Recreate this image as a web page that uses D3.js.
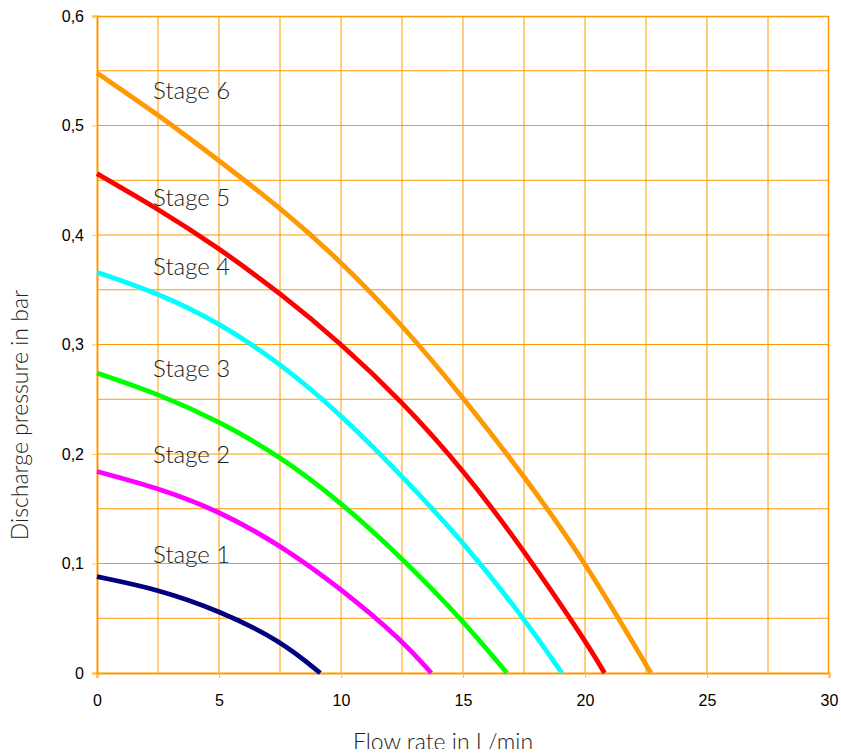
<!DOCTYPE html>
<html>
<head>
<meta charset="utf-8">
<script src="https://cdn.jsdelivr.net/npm/d3@7"></script>
<style>
  html, body { margin: 0; padding: 0; background: #fff; }
  svg { display: block; }
</style>
</head>
<body>
<svg id="chart"></svg>
<script>
// stage curves (flow in L/min, pressure in bar)
var stageNames = ["Stage 1", "Stage 2", "Stage 3", "Stage 4", "Stage 5", "Stage 6"];
var stageColors = ["#000080", "#ff00ff", "#00ff00", "#00ffff", "#ff0000", "#ff9900"];
var stage1 = [[0, 0.088], [2.5, 0.0765], [5, 0.057], [7.5, 0.030], [9.15, 0]];
var stage2 = [[0, 0.184], [2.5, 0.169], [5, 0.148], [7.5, 0.117], [10, 0.077], [12.5, 0.030], [13.7, 0]];
var stage3 = [[0, 0.274], [2.5, 0.255], [5, 0.230], [7.5, 0.198], [10, 0.156], [12.5, 0.105], [15, 0.048], [16.8, 0]];
var stage4 = [[0, 0.366], [2.5, 0.347], [5, 0.320], [7.5, 0.283], [10, 0.236], [12.5, 0.180], [15, 0.120], [17.5, 0.050], [19.05, 0]];
var stage5 = [[0, 0.456], [2.5, 0.424], [5, 0.388], [7.5, 0.347], [10, 0.301], [12.5, 0.248], [15, 0.186], [17.5, 0.112], [20, 0.030], [20.8, 0]];
var stage6 = [[0, 0.548], [2.5, 0.510], [5, 0.468], [7.5, 0.425], [10, 0.376], [12.5, 0.318], [15, 0.252], [17.5, 0.180], [20, 0.102], [22.7, 0]];
var stages = [stage1, stage2, stage3, stage4, stage5, stage6];

// where the "Stage n" labels sit (data units)
var labelFlow = 2.3;
var labelPressure = [0.1007, 0.1915, 0.2706, 0.3635, 0.4267, 0.524];

var xTicks = [0, 5, 10, 15, 20, 25, 30];
var yTicks = [0, 0.1, 0.2, 0.3, 0.4, 0.5, 0.6];
var xGrid = [2.5, 5, 7.5, 10, 12.5, 15, 17.5, 20, 22.5, 25, 27.5];
var yGrid = [0.05, 0.1, 0.15, 0.2, 0.25, 0.3, 0.35, 0.4, 0.45, 0.5, 0.55];

var width = 841, height = 755;
var margin = { top: 16, right: 12, bottom: 82, left: 97 };
var orange = "#ff9900";

var svg = d3.select("svg#chart").attr("width", width).attr("height", height);

var x = d3.scaleLinear().domain([0, 30]).range([margin.left, width - margin.right]);
var y = d3.scaleLinear().domain([0, 0.6]).range([height - margin.bottom, margin.top]);

// grid
svg.append("g")
   .selectAll("line")
   .data(xGrid)
   .join("line")
   .attr("x1", function (d) { return x(d); })
   .attr("x2", function (d) { return x(d); })
   .attr("y1", y(0))
   .attr("y2", y(0.6))
   .attr("stroke", orange)
   .attr("stroke-width", 1);

svg.append("g")
   .selectAll("line")
   .data(yGrid)
   .join("line")
   .attr("x1", x(0))
   .attr("x2", x(30))
   .attr("y1", function (d) { return y(d); })
   .attr("y2", function (d) { return y(d); })
   .attr("stroke", orange)
   .attr("stroke-width", 1);

// frame top / right
svg.append("line")
   .attr("x1", x(0)).attr("x2", x(30))
   .attr("y1", y(0.6) + 0.5).attr("y2", y(0.6) + 0.5)
   .attr("stroke", orange).attr("stroke-width", 1.5);
svg.append("line")
   .attr("x1", x(30) - 0.5).attr("x2", x(30) - 0.5)
   .attr("y1", y(0)).attr("y2", y(0.6))
   .attr("stroke", orange).attr("stroke-width", 1.5);

// axes
var xAxis = svg.append("g")
   .attr("transform", "translate(0," + y(0) + ")")
   .call(d3.axisBottom(x).tickValues(xTicks).tickSize(5).tickPadding(17).tickFormat(d3.format("d")));

var yAxis = svg.append("g")
   .attr("transform", "translate(" + x(0) + ",0)")
   .call(d3.axisLeft(y).tickValues(yTicks).tickSize(5).tickPadding(8)
      .tickFormat(function (d) { return d === 0 ? "0" : d3.format(".1f")(d).replace(".", ","); }));

[xAxis, yAxis].forEach(function (a) {
   a.select(".domain").attr("stroke", orange).attr("stroke-width", 2);
   a.selectAll(".tick line").attr("stroke", "#ffc060").attr("stroke-width", 1);
   a.selectAll(".tick text")
      .attr("fill", "#000")
      .style("font-family", "'Liberation Sans', Arial, sans-serif")
      .style("font-size", "16px");
});

// curves (B-spline keeps them smooth like the original)
var line = d3.line()
   .x(function (d) { return x(d[0]); })
   .y(function (d) { return y(d[1]); })
   .curve(d3.curveBasis);

svg.append("g")
   .selectAll("path")
   .data(stages)
   .join("path")
   .attr("fill", "none")
   .attr("stroke", function (d, i) { return stageColors[i]; })
   .attr("stroke-width", 4.8)
   .attr("d", line);

// stage labels
svg.append("g")
   .selectAll("text")
   .data(stageNames)
   .join("text")
   .attr("x", x(labelFlow))
   .attr("y", function (d, i) { return y(labelPressure[i]); })
   .attr("fill", "#222")
   .style("font-family", "Lato, 'Open Sans', sans-serif")
   .style("font-weight", 300)
   .style("font-size", "24px")
   .text(function (d) { return d; });

// axis titles
svg.append("text")
   .attr("transform", "translate(28," + 415 + ") rotate(-90)")
   .attr("text-anchor", "middle")
   .attr("fill", "#222")
   .style("font-family", "Lato, 'Open Sans', sans-serif")
   .style("font-weight", 300)
   .style("font-size", "23px")
   .text("Discharge pressure in bar");

svg.append("defs").append("clipPath").attr("id", "bottomClip")
   .append("rect").attr("x", 0).attr("y", 0).attr("width", width).attr("height", 749);

svg.append("text")
   .attr("clip-path", "url(#bottomClip)")
   .attr("x", 443)
   .attr("y", 750)
   .attr("text-anchor", "middle")
   .attr("fill", "#222")
   .style("font-family", "Lato, 'Open Sans', sans-serif")
   .style("font-weight", 300)
   .style("font-size", "23px")
   .text("Flow rate in L/min");
</script>
</body>
</html>
